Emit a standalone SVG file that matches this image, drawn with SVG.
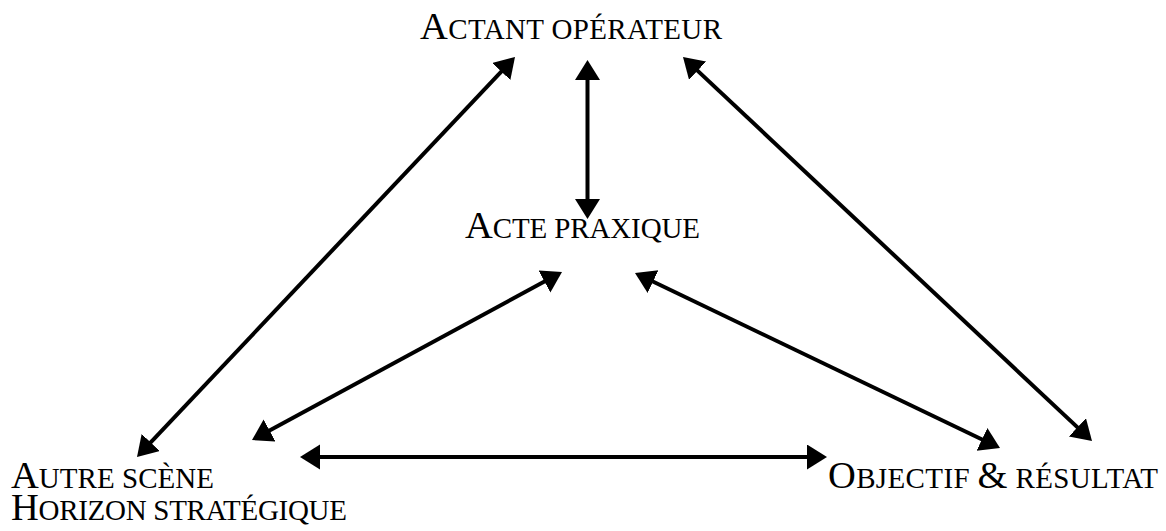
<svg xmlns="http://www.w3.org/2000/svg" width="1166" height="531" viewBox="0 0 1166 531">
  <style>
    .label { font-family: "Liberation Serif", "Times New Roman", serif; font-size: 29px; fill: #000; }
    .cap { font-size: 38.5px; }
    .link { stroke: #000; stroke-width: 4; fill: none; marker-start: url(#head); marker-end: url(#head); }
  </style>
  <defs>
    <!-- filled triangular head; the tip sits 10px past the line end so the stroke stays hidden -->
    <marker id="head" markerUnits="userSpaceOnUse" markerWidth="22" markerHeight="27" refX="10" refY="12.5" orient="auto-start-reverse">
      <path d="M0,0 L20,12.5 L0,25 Z" fill="#000"/>
    </marker>
  </defs>
  <rect width="1166" height="531" fill="#fff"/>

  <g id="connectors">
    <line class="link" x1="508.13" y1="64.27" x2="143.87" y2="449.73"/>
    <line class="link" x1="690.29" y1="63.85" x2="1084.71" y2="434.16"/>
    <line class="link" x1="587.5" y1="70" x2="587.5" y2="209"/>
    <line class="link" x1="553.21" y1="276.76" x2="260.79" y2="435.24"/>
    <line class="link" x1="644.02" y1="277.32" x2="990.98" y2="443.68"/>
    <line class="link" x1="310" y1="457" x2="817" y2="457"/>
  </g>

  <g id="actant-operateur">
    <text class="label" x="420" y="39" textLength="302"><tspan class="cap">A</tspan>CTANT OPÉRATEUR</text>
  </g>
  <g id="acte-praxique">
    <text class="label" x="465" y="238" textLength="235"><tspan class="cap">A</tspan>CTE PRAXIQUE</text>
  </g>
  <g id="autre-scene">
    <text class="label" x="11" y="488" textLength="203"><tspan class="cap">A</tspan>UTRE SCÈNE</text>
    <text class="label" x="11" y="520" textLength="336"><tspan class="cap">H</tspan>ORIZON STRATÉGIQUE</text>
  </g>
  <g id="objectif-resultat">
    <text class="label" x="828" y="488" textLength="330"><tspan class="cap">O</tspan>BJECTIF <tspan class="cap">&amp;</tspan> RÉSULTAT</text>
  </g>
</svg>
